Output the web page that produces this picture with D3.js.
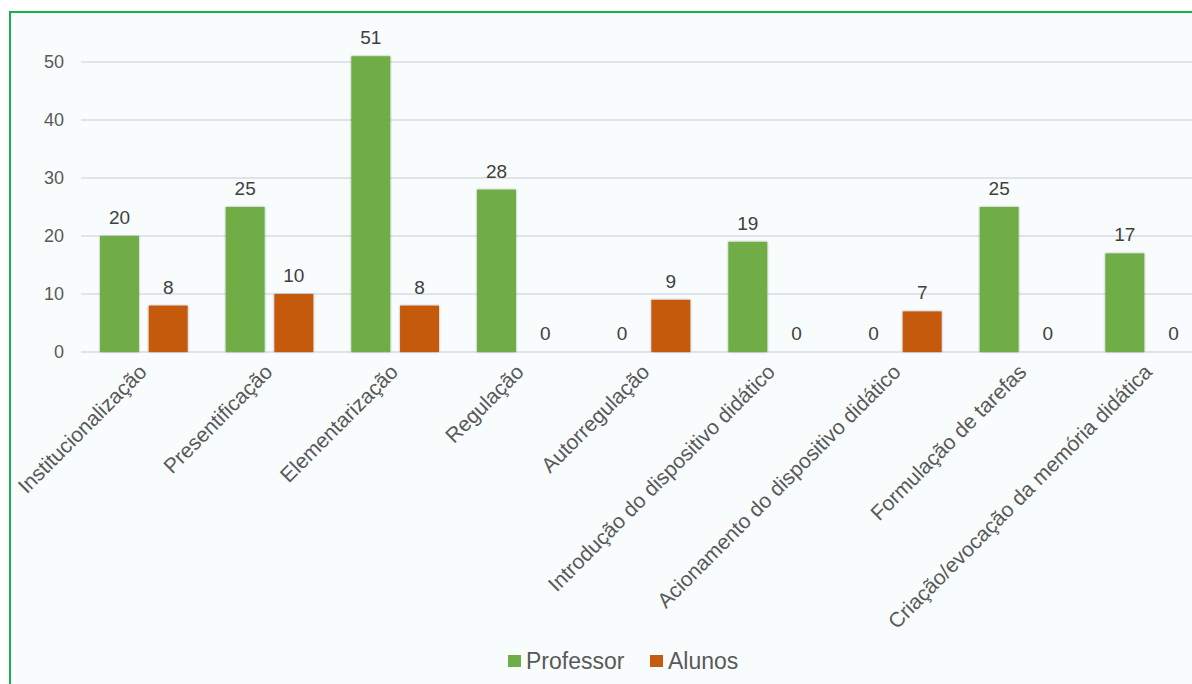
<!DOCTYPE html>
<html>
<head>
<meta charset="utf-8">
<script src="https://cdn.jsdelivr.net/npm/d3@7"></script>
<style>
  html, body { margin: 0; padding: 0; background: #ffffff; }
  svg { display: block; font-family: "Liberation Sans", Arial, sans-serif; }
</style>
</head>
<body>
<svg id="chart" width="1192" height="684"></svg>
<script>
// Chart data
var categories = ["Institucionalização", "Presentificação", "Elementarização", "Regulação",
    "Autorregulação", "Introdução do dispositivo didático", "Acionamento do dispositivo didático",
    "Formulação de tarefas", "Criação/evocação da memória didática"];
var professor = [20, 25, 51, 28, 0, 19, 0, 25, 17];
var alunos = [8, 10, 8, 0, 9, 0, 7, 0, 0];
var seriesNames = ["Professor", "Alunos"];
var seriesColors = ["#70ad47", "#c55a11"];
var yTicks = [0, 10, 20, 30, 40, 50];

var svg = d3.select("#chart");

// Frame
svg.append("rect")
    .attr("x", 10).attr("y", 12)
    .attr("width", 1200).attr("height", 700)
    .style("fill", "#f8fcfd")
    .style("stroke", "#1aae52")
    .style("stroke-width", 2);

var defs = svg.append("defs");
var shadow = defs.append("filter").attr("id", "shadow")
    .attr("x", "-20%").attr("y", "-20%").attr("width", "140%").attr("height", "140%");
shadow.append("feDropShadow")
    .attr("dx", 0).attr("dy", 0).attr("stdDeviation", 1.2)
    .attr("flood-color", "#000").attr("flood-opacity", 0.35);

var left = 81, right = 1212, top0 = 62, bottom = 352;

var x = d3.scaleBand().domain(categories).range([left, right]).paddingInner(0).paddingOuter(0);
var inner = d3.scaleBand().domain(seriesNames).range([19, x.bandwidth() - 19]).paddingInner(0.2);
var y = d3.scaleLinear().domain([0, 50]).range([bottom, top0]);

// Gridlines
svg.append("g").selectAll("line")
    .data(yTicks)
    .join("line")
    .attr("x1", left).attr("x2", 1192)
    .attr("y1", d => y(d)).attr("y2", d => y(d))
    .style("stroke", "#d9dce3")
    .style("stroke-width", 1.3);

// Y tick labels
svg.append("g").selectAll("text")
    .data(yTicks)
    .join("text")
    .attr("x", 64)
    .attr("y", d => y(d))
    .attr("dy", "0.36em")
    .attr("text-anchor", "end")
    .style("font-size", "18px")
    .style("fill", "#595959")
    .text(d => d);

var rows = categories.map((c, i) => ({cat: c, values: [professor[i], alunos[i]]}));

var groups = svg.append("g").selectAll("g")
    .data(rows)
    .join("g")
    .attr("transform", d => "translate(" + x(d.cat) + ",0)");

groups.selectAll("rect")
    .data(d => d.values.map((v, j) => ({name: seriesNames[j], value: v, color: seriesColors[j]})))
    .join("rect")
    .filter(d => d.value > 0)
    .attr("x", d => inner(d.name))
    .attr("y", d => y(d.value))
    .attr("width", inner.bandwidth())
    .attr("height", d => y(0) - y(d.value))
    .style("fill", d => d.color)
    .attr("filter", "url(#shadow)");

groups.selectAll("text")
    .data(d => d.values.map((v, j) => ({name: seriesNames[j], value: v})))
    .join("text")
    .attr("x", d => inner(d.name) + inner.bandwidth() / 2)
    .attr("y", d => y(d.value) - 12)
    .attr("text-anchor", "middle")
    .style("font-size", "19px")
    .style("fill", "#404040")
    .text(d => d.value);

// Category labels
svg.append("g").selectAll("text")
    .data(categories)
    .join("text")
    .attr("transform", d => "translate(" + (x(d) + x.bandwidth() / 2 - 1) + ",368) rotate(-45)")
    .attr("text-anchor", "end")
    .attr("dy", "0.35em")
    .style("font-size", "21px")
    .style("fill", "#595959")
    .text(d => d);

// Legend
var legend = svg.append("g").attr("transform", "translate(508,661)");
var item = legend.selectAll("g")
    .data(seriesNames)
    .join("g")
    .attr("transform", (d, i) => "translate(" + (i * 142) + ",0)");
item.append("rect")
    .attr("x", 0).attr("y", -6)
    .attr("width", 13).attr("height", 12)
    .style("fill", (d, i) => seriesColors[i]);
item.append("text")
    .attr("x", 18).attr("dy", "0.36em")
    .style("font-size", "23px")
    .style("fill", "#595959")
    .text(d => d);
</script>
</body>
</html>
